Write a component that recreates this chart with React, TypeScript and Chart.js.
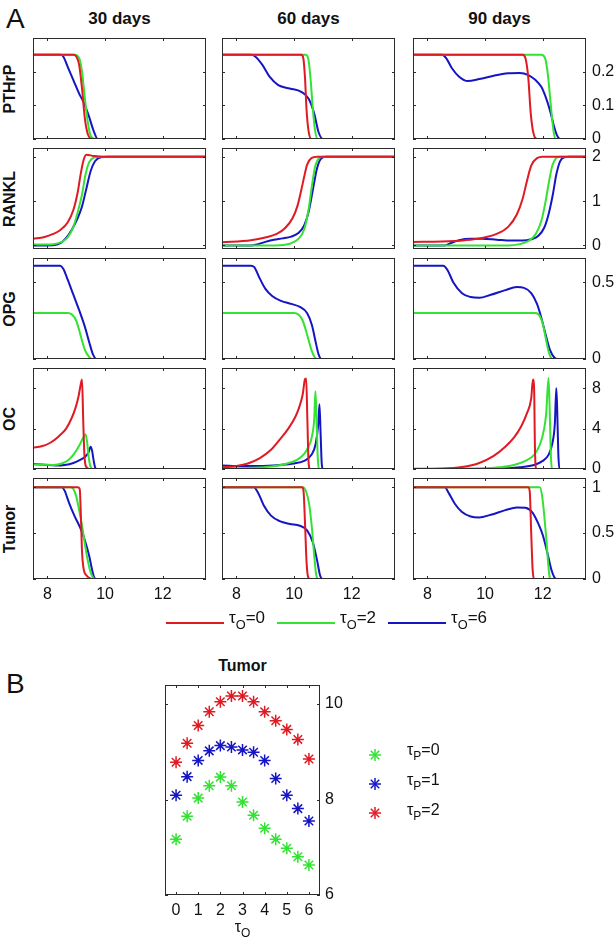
import React, { useEffect, useRef } from 'react';
import { Chart, registerables } from 'chart.js';

Chart.register(...registerables);

type Pt = [number, number];

// ---- Panel A: time courses (x = time, one column per treatment start) ----
const X_MIN = 7.5;
const X_MAX = 13.5;
const X_TICKS = [8, 10, 12];
const COLUMN_TITLES = ['30 days', '60 days', '90 days'];
const ROW_TITLES = ['PTHrP', 'RANKL', 'OPG', 'OC', 'Tumor'];
const Y_RANGES: [number, number][] = [
  [0, 0.3],
  [-0.08, 2.2],
  [0, 0.66],
  [0, 10],
  [0, 1.1],
];
const Y_TICKS = [
  [0, 0.1, 0.2],
  [0, 1, 2],
  [0, 0.5],
  [0, 4, 8],
  [0, 0.5, 1],
];
const SERIES_SUBS = ['0', '2', '6']; // tau_O values

// PTHrP
const PTHRP_30_T0: Pt[] = [[7.5, 0.25], [8.9, 0.25], [9.0, 0.245], [9.1, 0.22], [9.2, 0.15], [9.3, 0.06], [9.4, 0.015], [9.55, 0], [13.5, 0]];
const PTHRP_30_T2: Pt[] = [[7.5, 0.25], [8.95, 0.25], [9.1, 0.24], [9.2, 0.2], [9.3, 0.12], [9.4, 0.05], [9.5, 0.01], [9.65, 0], [13.5, 0]];
const PTHRP_30_T6: Pt[] = [[7.5, 0.25], [8.45, 0.25], [8.55, 0.245], [8.7, 0.215], [8.9, 0.175], [9.1, 0.135], [9.25, 0.11], [9.43, 0.07], [9.6, 0.025], [9.75, 0], [13.5, 0]];
const PTHRP_60_T0: Pt[] = [[7.5, 0.25], [10.25, 0.25], [10.32, 0.24], [10.38, 0.18], [10.43, 0.09], [10.5, 0.025], [10.6, 0], [13.5, 0]];
const PTHRP_60_T2: Pt[] = [[7.5, 0.25], [10.4, 0.25], [10.5, 0.235], [10.57, 0.18], [10.64, 0.1], [10.72, 0.03], [10.82, 0], [13.5, 0]];
const PTHRP_60_T6: Pt[] = [[7.5, 0.25], [8.5, 0.25], [8.65, 0.245], [8.9, 0.22], [9.15, 0.185], [9.45, 0.16], [9.85, 0.15], [10.25, 0.14], [10.5, 0.12], [10.7, 0.075], [10.85, 0.02], [11.0, 0], [13.5, 0]];
const PTHRP_90_T0: Pt[] = [[7.5, 0.25], [11.3, 0.25], [11.4, 0.24], [11.5, 0.18], [11.58, 0.08], [11.67, 0.02], [11.8, 0], [13.5, 0]];
const PTHRP_90_T2: Pt[] = [[7.5, 0.25], [11.95, 0.25], [12.08, 0.24], [12.18, 0.19], [12.28, 0.1], [12.38, 0.02], [12.46, 0], [13.5, 0]];
const PTHRP_90_T6: Pt[] = [[7.5, 0.25], [8.5, 0.25], [8.65, 0.24], [8.85, 0.21], [9.1, 0.185], [9.4, 0.172], [9.8, 0.178], [10.3, 0.188], [10.8, 0.195], [11.2, 0.196], [11.5, 0.19], [11.75, 0.175], [11.95, 0.155], [12.1, 0.125], [12.25, 0.085], [12.4, 0.035], [12.5, 0.01], [12.6, 0], [13.5, 0]];

// RANKL
const RANKL_30_T0: Pt[] = [[7.5, 0.15], [7.9, 0.19], [8.2, 0.26], [8.45, 0.35], [8.7, 0.52], [8.9, 0.8], [9.05, 1.2], [9.15, 1.6], [9.25, 1.92], [9.35, 2.05], [9.6, 2.02], [9.9, 2.0], [13.5, 2.0]];
const RANKL_30_T2: Pt[] = [[7.5, 0.02], [8.2, 0.03], [8.5, 0.08], [8.7, 0.18], [8.9, 0.42], [9.05, 0.75], [9.2, 1.15], [9.32, 1.6], [9.45, 1.88], [9.6, 1.98], [9.8, 2.0], [13.5, 2.0]];
const RANKL_30_T6: Pt[] = [[7.5, 0], [8.2, 0.005], [8.45, 0.05], [8.65, 0.17], [8.85, 0.36], [9.05, 0.62], [9.2, 0.88], [9.35, 1.28], [9.5, 1.68], [9.65, 1.9], [9.85, 1.99], [10.1, 2.0], [13.5, 2.0]];
const RANKL_60_T0: Pt[] = [[7.5, 0.07], [8.5, 0.12], [9.0, 0.18], [9.4, 0.26], [9.7, 0.4], [9.95, 0.62], [10.12, 0.9], [10.25, 1.25], [10.35, 1.55], [10.45, 1.82], [10.6, 1.97], [10.8, 2.0], [13.5, 2.0]];
const RANKL_60_T2: Pt[] = [[7.5, 0], [9.2, 0], [9.6, 0.01], [9.9, 0.05], [10.15, 0.15], [10.35, 0.36], [10.5, 0.8], [10.62, 1.35], [10.72, 1.75], [10.85, 1.96], [11.0, 2.0], [13.5, 2.0]];
const RANKL_60_T6: Pt[] = [[7.5, 0], [8.5, 0], [8.75, 0.03], [9.0, 0.08], [9.3, 0.13], [9.6, 0.16], [9.9, 0.2], [10.15, 0.28], [10.35, 0.45], [10.5, 0.75], [10.65, 1.25], [10.78, 1.7], [10.92, 1.95], [11.1, 2.0], [13.5, 2.0]];
const RANKL_90_T0: Pt[] = [[7.5, 0.08], [8.5, 0.09], [9.3, 0.12], [9.9, 0.17], [10.4, 0.26], [10.8, 0.42], [11.1, 0.7], [11.3, 1.05], [11.45, 1.45], [11.6, 1.8], [11.8, 1.97], [12.0, 2.0], [13.5, 2.0]];
const RANKL_90_T2: Pt[] = [[7.5, 0], [10.8, 0], [11.2, 0.03], [11.5, 0.1], [11.75, 0.25], [11.95, 0.55], [12.1, 1.0], [12.22, 1.45], [12.33, 1.8], [12.45, 1.96], [12.6, 2.0], [13.5, 2.0]];
const RANKL_90_T6: Pt[] = [[7.5, 0], [8.6, 0], [8.8, 0.05], [9.1, 0.12], [9.5, 0.15], [9.9, 0.15], [10.4, 0.13], [10.9, 0.11], [11.3, 0.11], [11.6, 0.14], [11.85, 0.22], [12.05, 0.4], [12.2, 0.7], [12.35, 1.15], [12.47, 1.6], [12.6, 1.9], [12.75, 1.99], [12.9, 2.0], [13.5, 2.0]];

// OPG
const OPG_ZERO: Pt[] = [[7.5, 0], [13.5, 0]];
const OPG_30_T2: Pt[] = [[7.5, 0.3], [8.7, 0.3], [8.85, 0.29], [9.0, 0.25], [9.1, 0.19], [9.2, 0.12], [9.3, 0.06], [9.4, 0.025], [9.5, 0.005], [9.6, 0], [13.5, 0]];
const OPG_30_T6: Pt[] = [[7.5, 0.61], [8.45, 0.61], [8.55, 0.59], [8.7, 0.52], [8.9, 0.42], [9.1, 0.32], [9.3, 0.21], [9.45, 0.11], [9.58, 0.03], [9.7, 0], [13.5, 0]];
const OPG_60_T2: Pt[] = [[7.5, 0.3], [10.0, 0.3], [10.15, 0.29], [10.3, 0.25], [10.45, 0.16], [10.6, 0.06], [10.72, 0.01], [10.82, 0], [13.5, 0]];
const OPG_60_T6: Pt[] = [[7.5, 0.61], [8.5, 0.61], [8.62, 0.6], [8.8, 0.53], [9.0, 0.46], [9.25, 0.41], [9.55, 0.38], [9.9, 0.36], [10.2, 0.34], [10.45, 0.3], [10.62, 0.22], [10.75, 0.11], [10.85, 0.03], [10.95, 0], [13.5, 0]];
const OPG_90_T2: Pt[] = [[7.5, 0.3], [11.75, 0.3], [11.9, 0.28], [12.0, 0.23], [12.1, 0.14], [12.2, 0.05], [12.28, 0.01], [12.35, 0], [13.5, 0]];
const OPG_90_T6: Pt[] = [[7.5, 0.61], [8.55, 0.61], [8.7, 0.58], [8.9, 0.5], [9.2, 0.43], [9.5, 0.405], [9.8, 0.4], [10.2, 0.42], [10.7, 0.45], [11.1, 0.47], [11.35, 0.465], [11.6, 0.43], [11.8, 0.36], [11.95, 0.27], [12.1, 0.16], [12.25, 0.06], [12.4, 0.01], [12.5, 0], [13.5, 0]];

// OC
const OC_30_T0: Pt[] = [[7.5, 2.12], [7.8, 2.25], [8.1, 2.6], [8.4, 3.25], [8.65, 4.0], [8.85, 5.1], [8.98, 6.1], [9.08, 7.2], [9.15, 8.3], [9.2, 8.85], [9.24, 5.0], [9.28, 1.6], [9.33, 0.3], [9.45, 0], [13.5, 0]];
const OC_30_T2: Pt[] = [[7.5, 0.45], [7.9, 0.42], [8.2, 0.4], [8.5, 0.55], [8.75, 0.95], [8.95, 1.6], [9.1, 2.3], [9.22, 3.0], [9.32, 3.45], [9.37, 2.8], [9.43, 1.2], [9.5, 0.2], [9.58, 0], [13.5, 0]];
const OC_30_T6: Pt[] = [[7.5, 0.5], [7.9, 0.42], [8.3, 0.35], [8.6, 0.4], [8.9, 0.6], [9.1, 0.85], [9.3, 1.2], [9.42, 1.6], [9.5, 2.2], [9.55, 1.8], [9.6, 0.9], [9.65, 0.2], [9.7, 0], [13.5, 0]];
const OC_60_T0: Pt[] = [[7.5, 0.15], [8.0, 0.3], [8.4, 0.55], [8.8, 1.05], [9.2, 1.9], [9.5, 2.9], [9.8, 4.0], [10.05, 5.2], [10.2, 6.3], [10.3, 7.4], [10.38, 8.9], [10.42, 8.95], [10.46, 5.0], [10.5, 0.8], [10.55, 0], [13.5, 0]];
const OC_60_T2: Pt[] = [[7.5, 0.05], [8.5, 0.12], [9.2, 0.25], [9.7, 0.5], [10.1, 0.9], [10.35, 1.5], [10.5, 2.2], [10.6, 3.0], [10.7, 5.0], [10.74, 7.7], [10.78, 5.0], [10.82, 1.2], [10.86, 0], [13.5, 0]];
const OC_60_T6: Pt[] = [[7.5, 0.35], [8.2, 0.3], [8.8, 0.3], [9.5, 0.4], [10.0, 0.55], [10.35, 0.8], [10.6, 1.4], [10.75, 2.5], [10.84, 4.5], [10.88, 6.4], [10.92, 3.5], [10.96, 0.5], [11.0, 0], [13.5, 0]];
const OC_90_T0: Pt[] = [[7.5, 0.02], [8.5, 0.05], [9.2, 0.2], [9.8, 0.6], [10.3, 1.3], [10.7, 2.2], [11.0, 3.1], [11.25, 4.2], [11.45, 5.5], [11.6, 7.0], [11.66, 8.85], [11.7, 8.0], [11.73, 2.0], [11.77, 0], [13.5, 0]];
const OC_90_T2: Pt[] = [[7.5, 0], [10.0, 0.05], [10.5, 0.18], [11.0, 0.4], [11.4, 0.8], [11.7, 1.4], [11.9, 2.4], [12.05, 4.0], [12.12, 5.5], [12.2, 9.0], [12.24, 6.0], [12.28, 1.5], [12.32, 0], [13.5, 0]];
const OC_90_T6: Pt[] = [[7.5, 0], [10.5, 0.05], [11.2, 0.18], [11.7, 0.4], [12.0, 0.8], [12.2, 1.4], [12.33, 2.5], [12.42, 4.5], [12.47, 8.0], [12.5, 6.0], [12.54, 1.5], [12.58, 0], [13.5, 0]];

// Tumor
const TUMOR_30_T0: Pt[] = [[7.5, 1], [9.05, 1], [9.12, 0.98], [9.16, 0.7], [9.2, 0.3], [9.25, 0.12], [9.35, 0.04], [9.5, 0.005], [9.6, 0], [13.5, 0]];
const TUMOR_30_T2: Pt[] = [[7.5, 1], [8.8, 1], [8.9, 0.98], [9.0, 0.9], [9.1, 0.75], [9.2, 0.58], [9.3, 0.38], [9.4, 0.2], [9.5, 0.07], [9.6, 0.01], [9.65, 0], [13.5, 0]];
const TUMOR_30_T6: Pt[] = [[7.5, 1], [8.5, 1], [8.6, 0.96], [8.75, 0.83], [8.95, 0.68], [9.15, 0.55], [9.3, 0.42], [9.45, 0.25], [9.55, 0.1], [9.62, 0.02], [9.68, 0], [13.5, 0]];
const TUMOR_60_T0: Pt[] = [[7.5, 1], [10.28, 1], [10.33, 0.95], [10.38, 0.6], [10.43, 0.2], [10.48, 0.03], [10.55, 0], [13.5, 0]];
const TUMOR_60_T2: Pt[] = [[7.5, 1], [10.3, 1], [10.42, 0.95], [10.52, 0.82], [10.62, 0.55], [10.7, 0.25], [10.76, 0.06], [10.82, 0], [13.5, 0]];
const TUMOR_60_T6: Pt[] = [[7.5, 1], [8.6, 1], [8.75, 0.94], [8.95, 0.8], [9.2, 0.69], [9.5, 0.63], [9.85, 0.6], [10.2, 0.58], [10.45, 0.53], [10.65, 0.4], [10.8, 0.2], [10.9, 0.04], [10.98, 0], [13.5, 0]];
const TUMOR_90_T0: Pt[] = [[7.5, 1], [11.5, 1], [11.55, 0.95], [11.6, 0.5], [11.65, 0.1], [11.7, 0], [13.5, 0]];
const TUMOR_90_T2: Pt[] = [[7.5, 1], [11.9, 1], [11.98, 0.9], [12.05, 0.7], [12.12, 0.45], [12.18, 0.2], [12.24, 0.02], [12.28, 0], [13.5, 0]];
const TUMOR_90_T6: Pt[] = [[7.5, 1], [8.6, 1], [8.75, 0.93], [8.95, 0.82], [9.2, 0.73], [9.5, 0.68], [9.8, 0.67], [10.2, 0.7], [10.7, 0.75], [11.1, 0.78], [11.4, 0.775], [11.65, 0.72], [11.85, 0.6], [12.0, 0.48], [12.15, 0.3], [12.3, 0.1], [12.4, 0.02], [12.48, 0], [13.5, 0]];

// rows x columns x series
const PANEL_CURVES: Pt[][][][] = [
  [[PTHRP_30_T0, PTHRP_30_T2, PTHRP_30_T6], [PTHRP_60_T0, PTHRP_60_T2, PTHRP_60_T6], [PTHRP_90_T0, PTHRP_90_T2, PTHRP_90_T6]],
  [[RANKL_30_T0, RANKL_30_T2, RANKL_30_T6], [RANKL_60_T0, RANKL_60_T2, RANKL_60_T6], [RANKL_90_T0, RANKL_90_T2, RANKL_90_T6]],
  [[OPG_ZERO, OPG_30_T2, OPG_30_T6], [OPG_ZERO, OPG_60_T2, OPG_60_T6], [OPG_ZERO, OPG_90_T2, OPG_90_T6]],
  [[OC_30_T0, OC_30_T2, OC_30_T6], [OC_60_T0, OC_60_T2, OC_60_T6], [OC_90_T0, OC_90_T2, OC_90_T6]],
  [[TUMOR_30_T0, TUMOR_30_T2, TUMOR_30_T6], [TUMOR_60_T0, TUMOR_60_T2, TUMOR_60_T6], [TUMOR_90_T0, TUMOR_90_T2, TUMOR_90_T6]],
];

// ---- Panel B: tumor value vs tau_O for three tau_P ----
const TAU_O = [0, 0.5, 1, 1.5, 2, 2.5, 3, 3.5, 4, 4.5, 5, 5.5, 6];
const TUMOR_TP0 = [7.17, 7.65, 8.03, 8.29, 8.47, 8.29, 7.95, 7.67, 7.4, 7.17, 6.98, 6.8, 6.63];
const TUMOR_TP1 = [8.09, 8.48, 8.82, 9.02, 9.13, 9.1, 9.04, 8.99, 8.82, 8.44, 8.09, 7.81, 7.55];
const TUMOR_TP2 = [8.78, 9.18, 9.55, 9.84, 10.05, 10.17, 10.17, 10.05, 9.84, 9.65, 9.47, 9.26, 8.85];
const B_X_TICKS = [0, 1, 2, 3, 4, 5, 6];
const B_Y_TICKS = [6, 8, 10];
const B_SUBS = ['0', '1', '2']; // tau_P values

// ---- styling / layout ----
const FONT = "'Liberation Sans', Arial, Helvetica, sans-serif";
const TEXT = '#111';
const FRAME = '#2b2b2b';
const A_COLORS = ['#e01a22', '#33e233', '#1515c4'];
const B_COLORS = ['#33e233', '#1515c4', '#e01a22'];

const PAD = 18;
const BOX_W = 173;
const BOX_H = 101;
const COL_LEFT = [33, 222, 413];
const ROW_TOP = [38, 148, 258, 368, 478];
const Y_AXIS_W = 40;
const X_AXIS_H = 26;

const B_LEFT = 165;
const B_TOP = 685;
const B_W = 155;
const B_H = 210;

Chart.defaults.font.family = FONT;
Chart.defaults.color = TEXT;

function fmt(v: number) {
  return String(Math.round(v * 100) / 100);
}

// box around the plot area with inward tick marks on all four sides
function framePlugin(xTicks: number[], yTicks: number[], len: number) {
  return {
    id: 'frame',
    afterDatasetsDraw(chart: any) {
      const { ctx, chartArea: a, scales } = chart;
      ctx.save();
      ctx.strokeStyle = FRAME;
      ctx.lineWidth = 1;
      ctx.strokeRect(Math.round(a.left) + 0.5, Math.round(a.top) + 0.5, Math.round(a.width) - 1, Math.round(a.height) - 1);
      ctx.beginPath();
      for (const v of xTicks) {
        const px = Math.round(scales.x.getPixelForValue(v)) + 0.5;
        ctx.moveTo(px, a.bottom);
        ctx.lineTo(px, a.bottom - len);
        ctx.moveTo(px, a.top);
        ctx.lineTo(px, a.top + len);
      }
      for (const v of yTicks) {
        const py = Math.round(scales.y.getPixelForValue(v)) + 0.5;
        ctx.moveTo(a.left, py);
        ctx.lineTo(a.left + len, py);
        ctx.moveTo(a.right, py);
        ctx.lineTo(a.right - len, py);
      }
      ctx.stroke();
      ctx.restore();
    },
  };
}

function LinePanel({ row, col }: { row: number; col: number }) {
  const ref = useRef<HTMLCanvasElement | null>(null);
  const showY = col === COLUMN_TITLES.length - 1;
  const showX = row === ROW_TITLES.length - 1;
  const width = PAD + BOX_W + (showY ? Y_AXIS_W : 0) + PAD;
  const height = PAD + BOX_H + (showX ? X_AXIS_H : 0) + PAD;

  useEffect(() => {
    const curves = PANEL_CURVES[row][col];
    const [yMin, yMax] = Y_RANGES[row];
    const yTicks = Y_TICKS[row];
    const xScale: any = {
      type: 'linear',
      min: X_MIN,
      max: X_MAX,
      display: showX,
      grid: { display: false, drawTicks: false },
      border: { display: false },
      ticks: { autoSkip: false, maxRotation: 0, padding: 6, color: TEXT, font: { family: FONT, size: 16 }, callback: (v: number) => fmt(v) },
      afterBuildTicks: (s: any) => {
        s.ticks = X_TICKS.map((value) => ({ value }));
      },
    };
    if (showX) xScale.afterFit = (s: any) => { s.height = X_AXIS_H; };
    const yScale: any = {
      type: 'linear',
      position: 'right',
      min: yMin,
      max: yMax,
      display: showY,
      grid: { display: false, drawTicks: false },
      border: { display: false },
      ticks: { autoSkip: false, padding: 6, color: TEXT, font: { family: FONT, size: 16 }, callback: (v: number) => fmt(v) },
      afterBuildTicks: (s: any) => {
        s.ticks = yTicks.map((value) => ({ value }));
      },
    };
    if (showY) yScale.afterFit = (s: any) => { s.width = Y_AXIS_W; };

    const chart = new Chart(ref.current as HTMLCanvasElement, {
      type: 'line',
      data: {
        datasets: curves.map((pts, i) => ({
          label: 'τO=' + SERIES_SUBS[i],
          data: pts.map(([x, y]) => ({ x, y })),
          borderColor: A_COLORS[i],
          backgroundColor: A_COLORS[i],
          borderWidth: 2,
          pointRadius: 0,
          cubicInterpolationMode: 'monotone',
          fill: false,
        })),
      },
      options: {
        animation: false,
        responsive: false,
        events: [],
        layout: { padding: PAD },
        plugins: { legend: { display: false }, tooltip: { enabled: false } },
        scales: { x: xScale, y: yScale },
      } as any,
      plugins: [framePlugin(X_TICKS, yTicks, 3)],
    });
    return () => chart.destroy();
  }, [row, col]);

  return (
    <canvas
      ref={ref}
      width={width}
      height={height}
      style={{ position: 'absolute', left: COL_LEFT[col] - PAD, top: ROW_TOP[row] - PAD, width, height }}
    />
  );
}

function ScatterPanel() {
  const ref = useRef<HTMLCanvasElement | null>(null);
  const width = PAD + B_W + Y_AXIS_W + PAD;
  const height = PAD + B_H + X_AXIS_H + PAD;

  useEffect(() => {
    const series = [TUMOR_TP0, TUMOR_TP1, TUMOR_TP2];
    const chart = new Chart(ref.current as HTMLCanvasElement, {
      type: 'scatter',
      data: {
        datasets: series.map((ys, i) => ({
          label: 'τP=' + B_SUBS[i],
          data: ys.map((y, k) => ({ x: TAU_O[k], y })),
          pointStyle: 'star',
          pointRadius: 6,
          borderWidth: 1.5,
          borderColor: B_COLORS[i],
          backgroundColor: B_COLORS[i],
        })),
      },
      options: {
        animation: false,
        responsive: false,
        events: [],
        layout: { padding: PAD },
        plugins: { legend: { display: false }, tooltip: { enabled: false } },
        scales: {
          x: {
            type: 'linear',
            min: -0.5,
            max: 6.5,
            grid: { display: false, drawTicks: false },
            border: { display: false },
            ticks: { autoSkip: false, maxRotation: 0, padding: 6, color: TEXT, font: { family: FONT, size: 16 }, callback: (v: number) => fmt(v) },
            afterBuildTicks: (s: any) => {
              s.ticks = B_X_TICKS.map((value) => ({ value }));
            },
            afterFit: (s: any) => {
              s.height = X_AXIS_H;
            },
          },
          y: {
            type: 'linear',
            position: 'right',
            min: 6,
            max: 10.4,
            grid: { display: false, drawTicks: false },
            border: { display: false },
            ticks: { autoSkip: false, padding: 5, color: TEXT, font: { family: FONT, size: 16 }, callback: (v: number) => fmt(v) },
            afterBuildTicks: (s: any) => {
              s.ticks = B_Y_TICKS.map((value) => ({ value }));
            },
            afterFit: (s: any) => {
              s.width = Y_AXIS_W;
            },
          },
        },
      } as any,
      plugins: [framePlugin(B_X_TICKS, B_Y_TICKS, 3)],
    });
    return () => chart.destroy();
  }, []);

  return (
    <canvas
      ref={ref}
      width={width}
      height={height}
      style={{ position: 'absolute', left: B_LEFT - PAD, top: B_TOP - PAD, width, height }}
    />
  );
}

function Asterisk({ color }: { color: string }) {
  const r = 6;
  const d = r * Math.SQRT1_2;
  return (
    <svg width={16} height={16} viewBox="-8 -8 16 16" style={{ display: 'block' }}>
      <g stroke={color} strokeWidth={1.5}>
        <line x1={-r} y1={0} x2={r} y2={0} />
        <line x1={0} y1={-r} x2={0} y2={r} />
        <line x1={-d} y1={-d} x2={d} y2={d} />
        <line x1={-d} y1={d} x2={d} y2={-d} />
      </g>
    </svg>
  );
}

function Tau({ sub, value, size }: { sub: string; value: string; size: number }) {
  return (
    <span style={{ whiteSpace: 'nowrap' }}>
      τ<span style={{ fontSize: size * 0.75, position: 'relative', top: size * 0.33 }}>{sub}</span>
      {value !== '' ? '=' + value : ''}
    </span>
  );
}

export default function App() {
  const abs: React.CSSProperties = { position: 'absolute' };
  return (
    <div
      style={{
        position: 'fixed',
        left: 0,
        top: 0,
        width: 615,
        height: 944,
        background: '#fff',
        fontFamily: FONT,
        color: TEXT,
        overflow: 'hidden',
      }}
    >
      <div style={{ ...abs, left: 6, top: 4, fontSize: 28, lineHeight: '30px' }}>A</div>
      <div style={{ ...abs, left: 6, top: 669, fontSize: 28, lineHeight: '30px' }}>B</div>

      {COLUMN_TITLES.map((t, i) => (
        <div
          key={t}
          style={{ ...abs, left: COL_LEFT[i], width: BOX_W, top: 9, lineHeight: '20px', textAlign: 'center', fontWeight: 'bold', fontSize: 17 }}
        >
          {t}
        </div>
      ))}

      {ROW_TITLES.map((t, i) => (
        <div
          key={t}
          style={{
            ...abs,
            left: 10,
            top: ROW_TOP[i] + BOX_H / 2,
            transform: 'translate(-50%, -50%) rotate(-90deg)',
            fontWeight: 'bold',
            fontSize: 16,
            lineHeight: '18px',
            whiteSpace: 'nowrap',
          }}
        >
          {t}
        </div>
      ))}

      {ROW_TITLES.map((_, r) => COLUMN_TITLES.map((__, c) => <LinePanel key={r + '-' + c} row={r} col={c} />))}

      {/* legend for panel A */}
      {SERIES_SUBS.map((s, i) => {
        const x0 = [166, 277, 388][i];
        return (
          <React.Fragment key={s}>
            <div style={{ ...abs, left: x0, top: 622, width: 58, height: 2, background: A_COLORS[i] }} />
            <div style={{ ...abs, left: x0 + 63, top: 608, fontSize: 17, lineHeight: '20px' }}>
              <Tau sub="O" value={s} size={17} />
            </div>
          </React.Fragment>
        );
      })}

      {/* panel B */}
      <div style={{ ...abs, left: B_LEFT, width: B_W, top: 656, lineHeight: '20px', textAlign: 'center', fontWeight: 'bold', fontSize: 16 }}>
        Tumor
      </div>
      <ScatterPanel />
      <div style={{ ...abs, left: B_LEFT, width: B_W, top: 917, lineHeight: '20px', textAlign: 'center', fontSize: 16 }}>
        <Tau sub="O" value="" size={16} />
      </div>
      {B_SUBS.map((s, i) => (
        <React.Fragment key={s}>
          <div style={{ ...abs, left: 367, top: 747 + 29 * i }}>
            <Asterisk color={B_COLORS[i]} />
          </div>
          <div style={{ ...abs, left: 407, top: 740 + 30 * i, fontSize: 16, lineHeight: '20px' }}>
            <Tau sub="P" value={s} size={16} />
          </div>
        </React.Fragment>
      ))}
    </div>
  );
}
